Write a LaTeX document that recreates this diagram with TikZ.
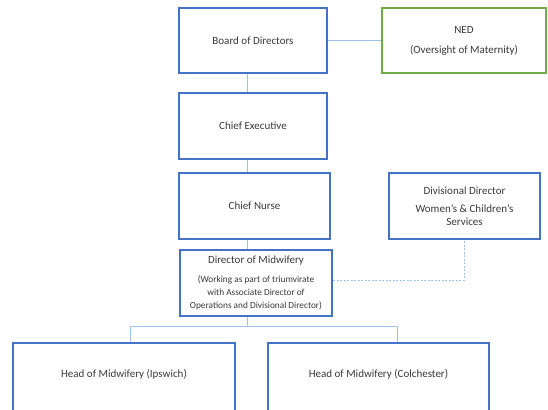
\documentclass[tikz,border=0pt]{standalone}
\usepackage{fontspec}
\setmainfont{Carlito}
\usepackage{xcolor}
\usepackage{tikz}
\usetikzlibrary{calc, positioning}
\definecolor{boxblue}{RGB}{68, 114, 196}
\definecolor{lineblue}{RGB}{157, 195, 230}
\definecolor{nedgreen}{RGB}{112, 173, 71}
\definecolor{txtgray}{RGB}{58, 58, 58}
\tikzset{
    rolenode/.style = {draw=boxblue, line width=2.4pt, rectangle, fill=white, inner sep=0em, 
      align=center, text=txtgray, font=\fontsize{11}{13}\selectfont},
    nednode/.style = {rolenode, draw=nedgreen},
    link/.style = {draw=lineblue, line width=1pt},
    dottedlink/.style = {link, dash pattern=on 2pt off 1.5pt}
}
\newcommand{\notefont}{\fontsize{9.3}{11}\selectfont}

\begin{document}
\begin{tikzpicture}[x=1pt, y=-1pt]
    \useasboundingbox (0,0) rectangle (548,409);
    \clip (0,0) rectangle (548,409);
    \coordinate (spine) at (247,0);
    \coordinate (dropL) at (130,326);
    \coordinate (dropR) at (397,326);

    \node [name = Board, rolenode, minimum width=148pt, minimum height=65pt] at (253,40.5) {Board of Directors};
    \node [name = NED, nednode, minimum width=164pt, minimum height=65pt] at (464,40.5) 
        {NED\\[7pt](Oversight of Maternity)};
    \node [name = CEO, rolenode, minimum width=148pt, minimum height=66pt] at (253,126) {Chief Executive};
    \node [name = Nurse, rolenode, minimum width=151pt, minimum height=66pt] at (254.5,206) {Chief Nurse};
    \node [name = Div, rolenode, minimum width=151pt, minimum height=66pt] at (464.5,206) 
        {Divisional Director\\[5pt]Women’s \& Children’s\\Services};
    \node [name = DoM, rolenode, minimum width=152pt, minimum height=66pt] at (256,283) 
        {Director of Midwifery\\[6pt]{\notefont(Working as part of triumvirate}\\
        {\notefont with Associate Director of}\\{\notefont Operations and Divisional Director)}};
    \node [name = Ipswich, rolenode, minimum width=222pt, minimum height=72pt, text depth=12pt] at (124,379) 
        {Head of Midwifery (Ipswich)};
    \node [name = Colch, rolenode, minimum width=221pt, minimum height=72pt, text depth=12pt] at (378.5,379) 
        {Head of Midwifery (Colchester)};

    \draw [link] (Board.east) -- (NED.west);
    \draw [link] (Board.south -| spine) -- (CEO.north -| spine);
    \draw [link] (CEO.south -| spine) -- (Nurse.north -| spine);
    \draw [link] (Nurse.south -| spine) -- (DoM.north -| spine);
    \draw [link] (DoM.south -| spine) -- (spine |- dropL);
    \draw [link] (Ipswich.north -| dropL) -- (dropL) -- (dropR) -- (Colch.north -| dropR);
    \draw [dottedlink] ($(DoM.east)+(0,-3)$) -| (Div.south);
\end{tikzpicture}
\end{document}
